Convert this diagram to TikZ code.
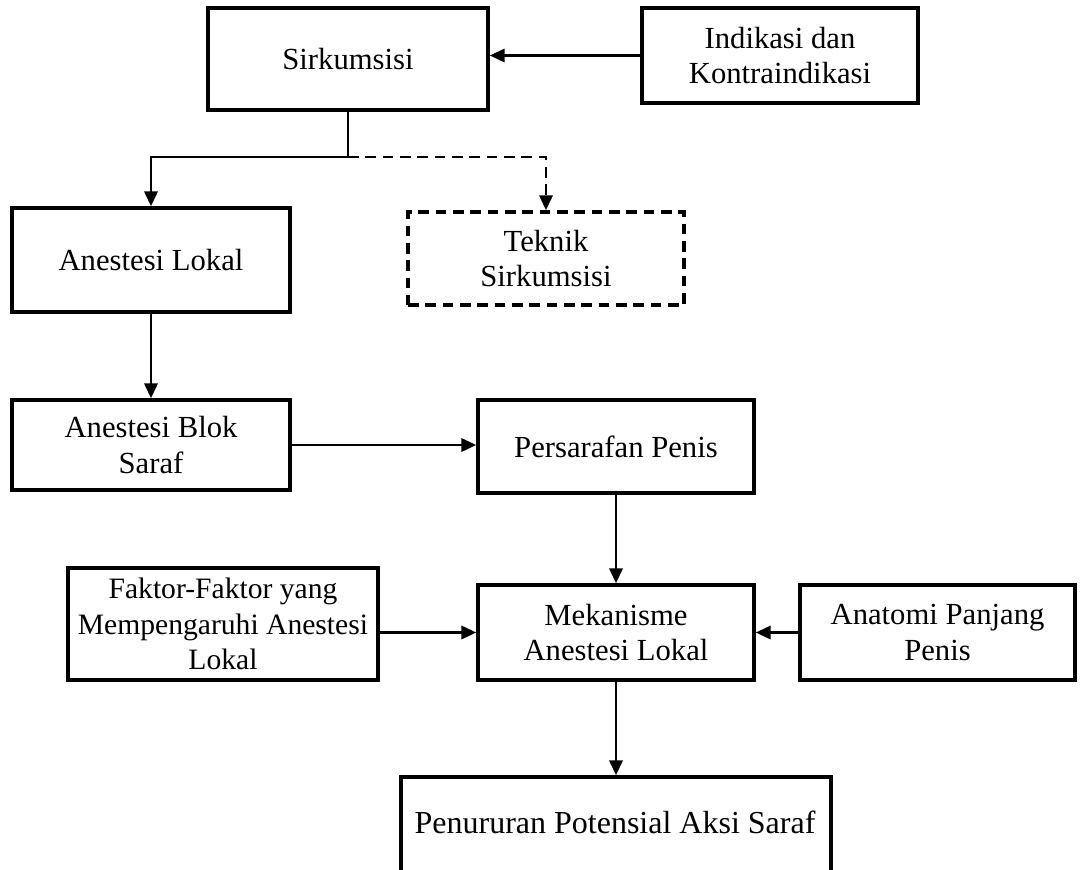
\documentclass[tikz,border=0pt]{standalone}
\usepackage{fontspec}
\setmainfont{Liberation Serif}
\usepackage{tikz}
\usetikzlibrary{arrows.meta,positioning,calc}

\begin{document}
\begin{tikzpicture}[x=0.75pt,y=-0.75pt,
	box/.style={draw,line width=2.8pt,align=center,inner sep=2pt,font=\fontsize{23}{26.5}\selectfont},
	arr/.style={line width=1.6pt,-{Triangle[length=11pt,width=10pt]}}]
		\useasboundingbox (0,0) rectangle (1085,870);
		\node[box,minimum width=210pt,minimum height=76.5pt] (sirk) at (348,59) {Sirkumsisi};
		\node[box,minimum width=207pt,minimum height=71.25pt] (indik) at (780,55.5) {Indikasi dan\\Kontraindikasi};
		\node[box,minimum width=208.5pt,minimum height=78pt] (anlok) at (151,260) {Anestesi Lokal};
		\node[box,dashed,dash pattern=on 8pt off 5pt,minimum width=207pt,minimum height=69.75pt] (teknik) at (546,258.5) {Teknik\\Sirkumsisi};
		\node[box,minimum width=208.5pt,minimum height=67.5pt] (blok) at (151,445) {Anestesi Blok\\Saraf};
		\node[box,minimum width=207pt,minimum height=69.75pt] (saraf) at (616,446.5) {Persarafan Penis};
		\node[box,font=\fontsize{22.2}{26.5}\selectfont,minimum width=232.5pt,minimum height=84pt] (faktor) at (223,624) {Faktor-Faktor yang\\Mempengaruhi Anestesi\\Lokal};
		\node[box,minimum width=207pt,minimum height=71.25pt] (meka) at (616,632.5) {Mekanisme\\Anestesi Lokal};
		\node[box,minimum width=206.25pt,minimum height=71.25pt] (anat) at (937.5,632.5) {Anatomi Panjang\\Penis};
		\node[box,minimum width=322.5pt,minimum height=91.5pt] (penur) at (616,838) {};
		\node[font=\fontsize{24}{29}\selectfont] (penurtxt) at (615,822) {Penururan Potensial Aksi Saraf};
		% cabang dari sirkumsisi
		\coordinate (split) at ($(sirk.south)+(0,45)$);
		\draw[line width=1.6pt] (sirk.south) -- (split);
		\draw[arr] (split) -| (anlok.north);
		\draw[arr,dashed,dash pattern=on 8pt off 5pt] (split) -| (teknik.north);
		\draw[arr] (indik.west) -- (sirk.east |- indik.west);
		\draw[arr] (anlok.south) -- (blok.north);
		\draw[arr] (blok.east) -- (saraf.west |- blok.east);
		\draw[arr] (saraf.south) -- (meka.north);
		\draw[arr] (faktor.east |- meka.west) -- (meka.west);
		\draw[arr] (anat.west) -- (meka.east);
		\draw[arr] (meka.south) -- (penur.north);
	\end{tikzpicture}
\end{document}
